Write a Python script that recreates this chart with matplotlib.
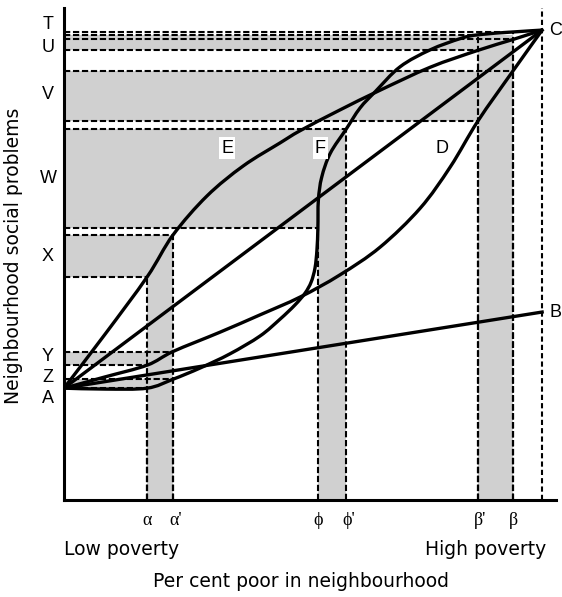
import numpy as np
import matplotlib.pyplot as plt
from matplotlib.patches import Rectangle, PathPatch
from matplotlib.path import Path

# curve (x = per cent poor, y = social problems, C = (100, 100))
curve_d_x = [0, 8.6, 17.4, 22.8, 32.6, 41.0, 49.4, 57.7, 66.1, 74.5, 80.8, 86.6, 93.9, 100]
curve_d_y = [23.8, 26.2, 28.7, 31.6, 35.7, 39.4, 43.2, 47.9, 53.8, 62.1, 70.9, 80.7, 91.3, 100]

curve_e_x = [0, 8.6, 17.4, 22.8, 29.9, 37.5, 45.2, 49.4, 57.7, 66.1, 76.6, 86.6, 93.9, 100]
curve_e_y = [23.8, 35.3, 47.5, 56.4, 64.7, 71.1, 76.0, 78.6, 83.0, 87.2, 92.1, 95.7, 98.0, 100]

curve_f_x = [0, 8.6, 17.4, 22.8, 28.5, 34.7, 41.0, 45.2, 48.3, 50.4, 51.7, 52.5, 52.9,
             53.1, 53.2, 53.9, 55.7, 59.0, 61.9, 65.1, 70.3, 76.6, 82.9, 86.6, 93.9, 100]
curve_f_y = [23.8, 23.6, 23.8, 25.7, 28.1, 31.1, 34.9, 38.5, 41.5, 44.0, 46.4, 49.4, 53.2,
             57.9, 63.8, 68.7, 73.8, 78.9, 83.4, 86.9, 92.2, 95.8, 98.2, 99.0, 99.6, 100]

line_ac_x = [0, 100]
line_ac_y = [23.8, 100]
line_ab_x = [0, 100]
line_ab_y = [23.8, 40.0]

# punti sulle curve da cui partono le linee tratteggiate (T, U, V, W, X, Y, Z)
band_x_lo = [86.6, 86.6, 86.6, 53.1, 17.4, 17.4, 17.4]
band_x_hi = [93.9, 93.9, 93.9, 59.0, 22.8, 22.8, 22.8]
band_y_lo = [99.0, 95.7, 80.7, 57.9, 47.5, 28.7, 23.8]
band_y_hi = [99.6, 98.0, 91.3, 78.9, 56.4, 31.6, 25.7]

# zone grigie orizzontali (dall'asse y fino a fill_x_hi)
fill_y_lo = [95.7, 80.7, 57.9, 47.5, 28.7, 23.8]
fill_y_hi = [99.0, 91.3, 78.9, 56.4, 31.6, 25.7]
fill_x_hi = [93.9, 93.9, 59.0, 22.8, 22.8, 22.8]

# zone grigie verticali (dall'asse x fino a vfill_top)
vfill_x_lo = [17.4, 53.1, 86.6]
vfill_x_hi = [22.8, 59.0, 93.9]
vfill_top = [47.5, 57.9, 99.0]

# etichette asse y
letter_labels = ['T', 'U', 'V', 'W', 'X', 'Y', 'Z', 'A']
letter_y = [101.1, 96.4, 86.2, 68.5, 51.9, 30.6, 26.0, 21.7]

# etichette asse x
greek_labels = ['α', "α'", 'ϕ', "ϕ'", "β'", 'β']
greek_x = [17.4, 22.8, 53.1, 59.0, 86.6, 93.9]

gray = '#d0d0d0'
dash = (0, (3, 1.3))


def curva_liscia(xs, ys):
    # path di Bezier che passa per i punti letti
    p = np.column_stack([xs, ys]).astype(float)
    n = len(p)
    verts = [p[0]]
    codes = [Path.MOVETO]
    for i in range(n - 1):
        p0 = p[i - 1] if i > 0 else p[i]
        p3 = p[i + 2] if i + 2 < n else p[i + 1]
        verts += [p[i] + (p[i + 1] - p0) / 6, p[i + 1] - (p3 - p[i]) / 6, p[i + 1]]
        codes += [Path.CURVE4] * 3
    return Path(verts, codes)


fig = plt.figure(figsize=(5.62, 5.97), dpi=100)
ax = fig.add_axes([64/562, 97/597, 492/562, 492/597])
ax.set_xlim(0, 102.9)
ax.set_ylim(0, 104.7)

# zone grigie
for y1, y2, x2 in zip(fill_y_lo, fill_y_hi, fill_x_hi):
    ax.add_patch(Rectangle((0, y1), x2, y2 - y1, facecolor=gray, edgecolor='none', zorder=1))
for x1, x2, top in zip(vfill_x_lo, vfill_x_hi, vfill_top):
    ax.add_patch(Rectangle((x1, 0), x2 - x1, top, facecolor=gray, edgecolor='none', zorder=1))

# linee tratteggiate
for xs, ys in [(band_x_lo, band_y_lo), (band_x_hi, band_y_hi)]:
    for x, y in zip(xs, ys):
        ax.plot([0, x], [y, y], color='black', lw=1.5, linestyle=dash, zorder=2)
        ax.plot([x, x], [0, y], color='black', lw=1.5, linestyle=dash, zorder=2)
ax.plot([100, 100], [0, 104.7], color='black', lw=1.5, linestyle=(0, (2.5, 1.5)), zorder=2)

# curve
for xs, ys in [(curve_d_x, curve_d_y), (curve_e_x, curve_e_y), (curve_f_x, curve_f_y)]:
    ax.add_patch(PathPatch(curva_liscia(xs, ys), fill=False, edgecolor='black', lw=2.4,
                           joinstyle='round', zorder=3))
for xs, ys in [(line_ac_x, line_ac_y), (line_ab_x, line_ab_y)]:
    ax.plot(xs, ys, color='black', lw=2.4, zorder=3)

# assi
for s in ['top', 'right']:
    ax.spines[s].set_visible(False)
for s in ['left', 'bottom']:
    ax.spines[s].set_linewidth(2.2)
ax.set_xticks([])
ax.set_yticks([])

sans = ['Liberation Sans', 'DejaVu Sans']
serif = ['Liberation Serif', 'DejaVu Serif']

for lab, y in zip(letter_labels, letter_y):
    ax.text(-3.35, y, lab, ha='center', va='center', fontsize=13, family=sans, clip_on=False)
for lab, x in zip(greek_labels, greek_x):
    off = 0.5 if "'" in lab else 0
    ax.text(x + off, -4.3, lab, ha='center', va='center', fontsize=13, family=serif, clip_on=False)

ax.text(101.5, 100, 'C', ha='left', va='center', fontsize=13, family=sans, clip_on=False)
ax.text(101.5, 40, 'B', ha='left', va='center', fontsize=13, family=sans, clip_on=False)

box = dict(facecolor='white', edgecolor='none', pad=1.5)
ax.text(34.1, 74.9, 'E', ha='center', va='center', fontsize=13, family=sans, bbox=box, zorder=4)
ax.text(53.6, 74.9, 'F', ha='center', va='center', fontsize=13, family=sans, bbox=box, zorder=4)
ax.text(79.1, 74.9, 'D', ha='center', va='center', fontsize=13, family=sans, bbox=box, zorder=4)

ax.text(0, -10.6, 'Low poverty', ha='left', va='center', fontsize=13.5, family='DejaVu Sans', clip_on=False)
ax.text(100.8, -10.6, 'High poverty', ha='right', va='center', fontsize=13.5, family='DejaVu Sans', clip_on=False)
ax.text(49.6, -17.4, 'Per cent poor in neighbourhood', ha='center', va='center', fontsize=13.5,
        family='DejaVu Sans', clip_on=False)
ax.text(-10.5, 51.9, 'Neighbourhood social problems', ha='center', va='center', rotation=90,
        fontsize=13.5, family='DejaVu Sans', clip_on=False)

fig.savefig('out.png', dpi=100)
